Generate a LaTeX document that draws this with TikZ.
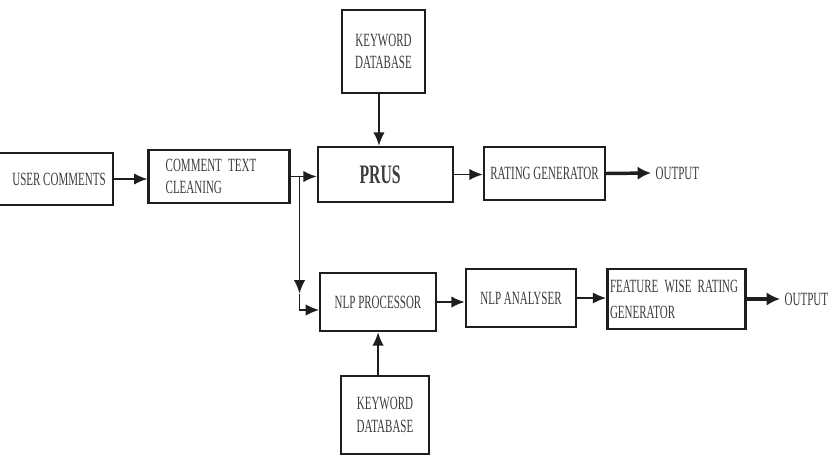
\documentclass[tikz,border=0pt]{standalone}
\usepackage{fontspec}
\setmainfont{Liberation Serif}[FakeStretch=0.59]
\usetikzlibrary{arrows.meta,positioning,calc}
\definecolor{ink}{HTML}{1E1E1E}
\definecolor{txt}{HTML}{3C3C3C}

\begin{document}
\begin{tikzpicture}[x=0.75pt,y=-0.75pt,font=\fontsize{14}{17}\selectfont,
      box/.style={draw=ink,line width=1.8pt,inner sep=2pt,align=center,text=txt},
      arr/.style={ink,line width=1.4pt,-{Latex[length=10pt,width=8.5pt]}},
      outarr/.style={ink,line width=2.6pt,-{Latex[length=10pt,width=10pt]}}]
    \path[use as bounding box,clip] (0,0) rectangle (834,456);
    \node[minimum width=81pt,minimum height=39pt,text=txt](uc) at (59,179){USER COMMENTS};
    \draw[ink,line width=1.8pt] ([xshift=-60pt]uc.north west) -- (uc.north east)
      -- (uc.south east) -- ([xshift=-60pt]uc.south west);
    \node[box,minimum height=39.75pt,text width=80pt,inner xsep=12.75pt,align=left](clean)
      at (219,176.5){COMMENT TEXT\\ CLEANING};
    \node[box,minimum width=101.25pt,minimum height=41.25pt,
      font=\fontsize{20}{24}\selectfont\bfseries](prus) at (385.5,174.5){PRUS\hspace*{8pt}};
    \node[box,minimum width=62.25pt,minimum height=62.25pt](kdbtop) at (383.5,51.5){KEYWORD\\ DATABASE};
    \node[box,minimum width=90.75pt,minimum height=39.75pt](rate) at (544.5,173.5){RATING GENERATOR};
    \node[text=txt,anchor=west](outtop) at (651,173){OUTPUT};
    \node[box,minimum width=86.6pt,minimum height=43.5pt](nlpp) at (378,302){NLP PROCESSOR};
    \node[box,minimum width=82.5pt,minimum height=43.5pt](nlpa) at (521,298){NLP ANALYSER};
    \node[box,minimum height=45pt,text width=99.75pt,align=left,
      font=\fontsize{14}{19.5}\selectfont](feat) at (676.5,299){FEATURE WISE RATING\\ GENERATOR};
    \node[text=txt,anchor=west](outbot) at (780,299){OUTPUT};
    \node[box,minimum width=66pt,minimum height=58.5pt](kdbbot) at (385,415){KEYWORD\\ DATABASE};
    \coordinate (split) at ($(clean.east)+(9,0)$);
    \coordinate (bend) at ($(split)+(0,117)$);
    \draw[arr] (uc.east) -- (uc.east -| clean.west);
    \draw[arr] (clean.east) -- (clean.east -| prus.west);
    \draw[arr,line width=1.1pt] (split) -- (bend);
    \draw[arr,line width=1.1pt] (bend) |- ([yshift=-6pt]nlpp.west);
    \draw[arr] ([xshift=-3.4pt]kdbtop.south) -- ([xshift=-3.4pt]kdbtop.south |- prus.north);
    \draw[arr] ([xshift=-5.2pt]kdbbot.north) -- ([xshift=-5.2pt]kdbbot.north |- nlpp.south);
    \draw[arr] (prus.east) -- (prus.east -| rate.west);
    \draw[outarr] (rate.east) -- (outtop.west);
    \draw[arr] (nlpp.east) -- (nlpp.east -| nlpa.west);
    \draw[arr] (nlpa.east) -- (nlpa.east -| feat.west);
    \draw[outarr] (feat.east) -- (outbot.west);
  \end{tikzpicture}
\end{document}
